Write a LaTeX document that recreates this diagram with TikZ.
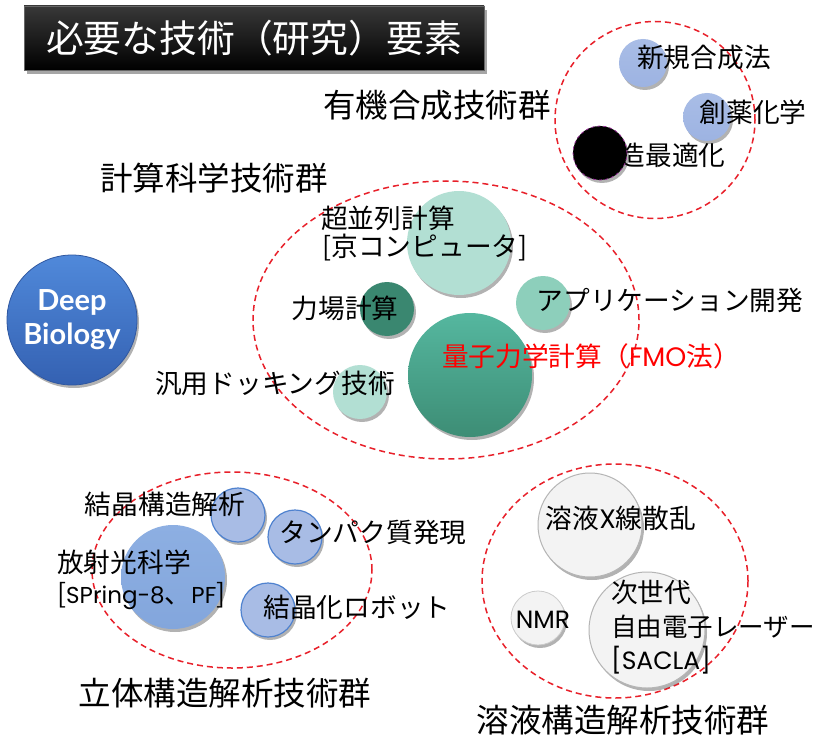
\documentclass[tikz,border=0pt]{standalone}
\usepackage{fontspec}
\setmainfont{Noto Sans CJK JP}
\newfontfamily\latfont{Poppins}
\newfontfamily\dbfont{Lato}
\usetikzlibrary{shadows,shapes.geometric}
\definecolor{grpred}{HTML}{E8202A}
\definecolor{bluelt}{HTML}{A9BDE6}
\definecolor{bluelt2}{HTML}{9DB3E2}
\definecolor{mintlt}{HTML}{B2DFD3}
\definecolor{mintmd}{HTML}{8DCFBB}
\definecolor{tealdk}{HTML}{3A8770}
\definecolor{tealtop}{HTML}{55B79F}
\definecolor{tealbot}{HTML}{3D8D75}
\definecolor{bigblue}{HTML}{8DAFE2}
\definecolor{bigblue2}{HTML}{83A6DC}
\definecolor{smblue}{HTML}{A8BCE5}
\definecolor{smbluedraw}{HTML}{4F82CF}
\definecolor{grayfill}{HTML}{F3F3F3}
\definecolor{graydraw}{HTML}{B5B5B5}
\definecolor{dbtop}{HTML}{5089DA}
\definecolor{dbbot}{HTML}{3461B2}
\begin{document}
\begin{tikzpicture}[x=1pt,y=-1pt,
  grp/.style={draw=grpred, ellipse, line width=1.5pt, dash pattern=on 6pt off 4pt, inner sep=0},
  lbl/.style={font=\fontsize{26.7}{32}\selectfont, inner sep=0, text=black},
  glbl/.style={font=\fontsize{32.5}{36}\selectfont, inner sep=0, text=black},
  bub/.style={circle, inner sep=0, minimum size=#1, draw=none,
    drop shadow={shadow xshift=2pt, shadow yshift=-3pt, opacity=0.3, fill=black}},
]
\useasboundingbox (0,0) rectangle (821,738);
\fill[white] (0,0) rectangle (821,738);

% title
\node[rectangle, minimum width=460, minimum height=64, inner sep=0,
  top color=black!78, bottom color=black, draw=black!60, line width=0.6pt,
  drop shadow={shadow xshift=3pt, shadow yshift=-4pt, opacity=0.35, fill=black},
  text=white, font=\fontsize{37.8}{42}\selectfont] (title) at (254,38) {必要な技術（研究）要素};

% group ellipses
\node[grp, minimum width=200, minimum height=197] (g1) at (655,120) {};
\node[grp, minimum width=386, minimum height=278] (g2) at (446,320) {};
\node[grp, minimum width=280, minimum height=196] (g3) at (232,570) {};
\node[grp, minimum width=266, minimum height=234] (g4) at (615,581) {};

% group labels
\node[glbl] (l1) at (437,105) {有機合成技術群};
\node[glbl] (l2) at (214,178) {計算科学技術群};
\node[glbl] (l3) at (225,693) {立体構造解析技術群};
\node[glbl] (l4) at (623,720) {溶液構造解析技術群};

% Deep Biology
\node[bub=130, top color=dbtop, bottom color=dbbot, draw=dbbot!90!black, line width=0.8pt,
  align=center, text=white, font=\dbfont\bfseries\fontsize{29}{34}\selectfont] (db) at (72,320) {Deep\\Biology};

% top-right group
\node[bub=48, top color=bluelt, bottom color=bluelt2] (c11) at (643,63) {};
\node[bub=48, top color=bluelt, bottom color=bluelt2] (c12) at (707,117) {};
\node[lbl] (t11) at (704,57) {新規合成法};
\node[lbl] (t12) at (753,112) {創薬化学};
\node[lbl] (t13) at (672,155) {造最適化};
\node[bub=54, fill=black, draw=violet!80, line width=0.8pt, dashed] (c13) at (600,153) {};

% central group
\node[bub=104, fill=mintlt] (c21) at (459,243) {};
\node[bub=54, fill=tealdk] (c22) at (387,309) {};
\node[bub=54, fill=mintmd] (c23) at (543,303) {};
\node[bub=124, top color=tealtop, bottom color=tealbot] (c24) at (470,375) {};
\node[bub=54, fill=mintlt] (c25) at (360,392) {};
\node[lbl] (t21) at (388,218) {超並列計算};
\node[lbl] (t21b) at (425,248) {[京コンピュータ]};
\node[lbl] (t22) at (345,308) {力場計算};
\node[lbl] (t23) at (670,300) {アプリケーション開発};
\node[lbl, text=red] (t24) at (591,356) {量子力学計算（{\latfont FMO}法）};
\node[lbl] (t25) at (275,383) {汎用ドッキング技術};

% bottom-left group
\node[bub=104, top color=bigblue, bottom color=bigblue2] (c31) at (173,577) {};
\node[bub=54, fill=smblue, draw=smbluedraw, line width=1.2pt] (c32) at (238,515) {};
\node[bub=54, fill=smblue, draw=smbluedraw, line width=1.2pt] (c33) at (295,537) {};
\node[bub=54, fill=smblue, draw=smbluedraw, line width=1.2pt] (c34) at (268,610) {};
\node[lbl] (t32) at (165,504) {結晶構造解析};
\node[lbl] (t33) at (373,532) {タンパク質発現};
\node[lbl, anchor=west] (t31) at (57,562) {放射光科学};
\node[lbl, anchor=west] (t31b) at (57,596) {[{\latfont\fontsize{23}{28}\selectfont SPring-8}、{\latfont\fontsize{23}{28}\selectfont PF}]};
\node[lbl] (t34) at (357,607) {結晶化ロボット};

% bottom-right group
\node[bub=104, fill=grayfill, draw=graydraw, line width=1pt] (c41) at (590,525) {};
\node[bub=54, fill=grayfill, draw=graydraw!70, line width=0.8pt] (c42) at (538,618) {};
\node[bub=116, fill=grayfill, draw=graydraw, line width=1pt] (c43) at (647,630) {};
\node[lbl] (t41) at (621,518) {溶液{\latfont X}線散乱};
\node[lbl, font=\latfont\fontsize{25}{30}\selectfont] (t42) at (543,620) {NMR};
\node[lbl, anchor=west] (t43a) at (611,592) {次世代};
\node[lbl, anchor=west, font=\fontsize{25.5}{30}\selectfont] (t43b) at (611,627) {自由電子レーザー};
\node[lbl, anchor=west, font=\latfont\fontsize{25}{30}\selectfont] (t43c) at (611,660) {[SACLA]};
\end{tikzpicture}
\end{document}
